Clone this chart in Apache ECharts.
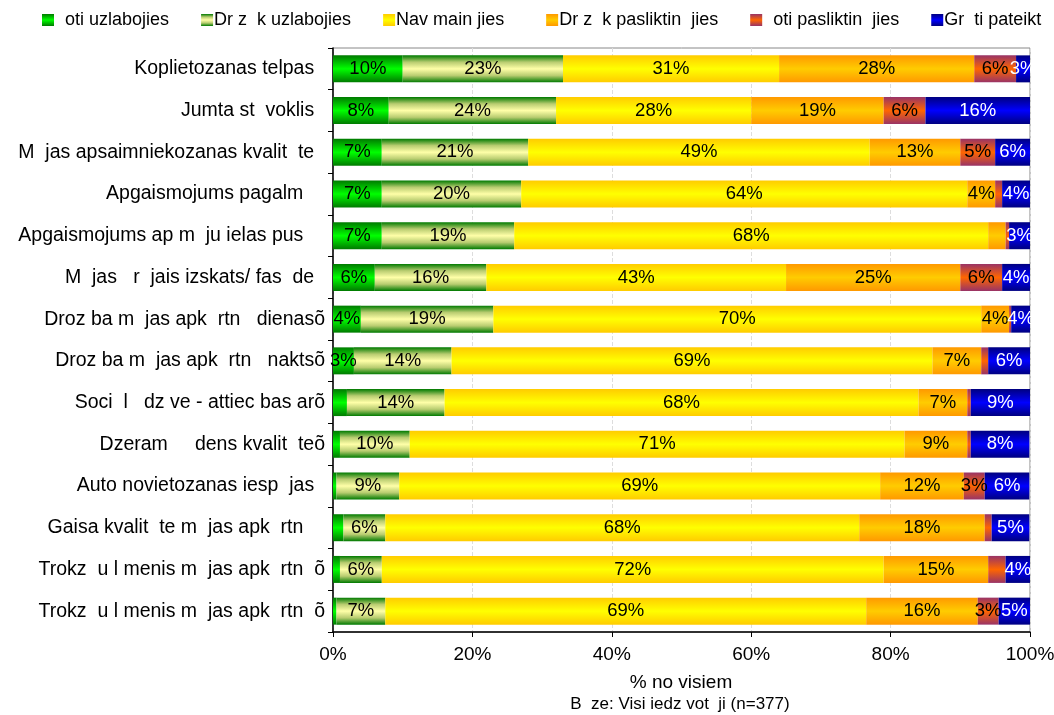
<!DOCTYPE html>
<html>
<head>
<meta charset="utf-8">
<script src="https://cdn.jsdelivr.net/npm/echarts@6/dist/echarts.min.js"></script>
<style>
  html, body { margin: 0; padding: 0; background: #fff; }
  #main { width: 1054px; height: 715px; }
</style>
</head>
<body>
<div id="main"></div>
<script>
// kategorijas (no augšas uz leju)
let categories = [
  'Koplietozanas telpas  ',
  'Jumta st  voklis  ',
  'M  jas apsaimniekozanas kvalit  te  ',
  'Apgaismojums pagalm    ',
  'Apgaismojums ap m  ju ielas pus    ',
  'M  jas   r  jais izskats/ fas  de  ',
  'Droz ba m  jas apk  rtn   dienasõ',
  'Droz ba m  jas apk  rtn   naktsõ',
  'Soci  l   dz ve - attiec bas arõ',
  'Dzeram     dens kvalit  teõ',
  'Auto novietozanas iesp  jas  ',
  'Gaisa kvalit  te m  jas apk  rtn    ',
  'Trokz  u l menis m  jas apk  rtn  õ',
  'Trokz  u l menis m  jas apk  rtn  õ'
];

let legendNames = [
  '  oti uzlabojies',
  'Dr z  k uzlabojies',
  'Nav main jies  ',
  'Dr z  k pasliktin  jies',
  '  oti pasliktin  jies',
  'Gr  ti pateikt'
];

// vērtības, %
let veryImproved     = [10, 8, 7, 7, 7, 6, 4, 3, 2, 1, 0.5, 1.5, 1, 0.5];
let slightlyImproved = [23, 24, 21, 20, 19, 16, 19, 14, 14, 10, 9, 6, 6, 7];
let unchanged        = [31, 28, 49, 64, 68, 43, 70, 69, 68, 71, 69, 68, 72, 69];
let slightlyWorse    = [28, 19, 13, 4, 2.5, 25, 4, 7, 7, 9, 12, 18, 15, 16];
let muchWorse        = [6, 6, 5, 1, 0.5, 6, 0.3, 1, 0.5, 0.5, 3, 1, 2.5, 3];
let hardToSay        = [3, 16, 6, 4, 3, 4, 4, 6, 9, 8.4, 6.4, 5.4, 4, 5];

let xTicks = [0, 20, 40, 60, 80, 100];

let FONT = 'Liberation Sans, Arial, sans-serif';

function grad(edge, mid) {
  return new echarts.graphic.LinearGradient(0, 0, 0, 1, [
    { offset: 0, color: edge },
    { offset: 0.5, color: mid },
    { offset: 1, color: edge }
  ]);
}

function makeSeries(name, data, color, labelColor) {
  return {
    name: name,
    type: 'bar',
    stack: 'total',
    barWidth: 27,
    data: data,
    itemStyle: { color: color },
    label: {
      show: true,
      position: 'inside',
      color: labelColor,
      fontSize: 18.5,
      fontFamily: FONT,
      formatter: function (p) {
        return p.value >= 3 ? Math.round(p.value) + '%' : '';
      }
    }
  };
}

let chartDom = document.getElementById('main');
let myChart = echarts.init(chartDom);
let option;

option = {
  animation: false,
  textStyle: { fontFamily: FONT },
  legend: {
    left: 42,
    top: 11,
    padding: 0,
    itemWidth: 12,
    itemHeight: 12,
    itemGap: 32,
    icon: 'rect',
    textStyle: { fontSize: 18, color: '#000', padding: [0, 0, 0, -4] },
    data: legendNames
  },
  grid: {
    left: 333,
    right: 24,
    top: 48,
    height: 584,
    show: true,
    borderColor: '#888',
    borderWidth: 1,
    containLabel: false,
    outerBoundsMode: 'none'
  },
  xAxis: {
    type: 'value',
    min: 0,
    max: 100,
    interval: 20,
    axisLine: { show: true, lineStyle: { color: '#000', width: 1.5 } },
    axisTick: { show: true, length: 5, lineStyle: { color: '#000' } },
    axisLabel: {
      fontSize: 19,
      color: '#000',
      margin: 13,
      formatter: function (v) { return xTicks.indexOf(v) >= 0 ? v + '%' : ''; }
    },
    splitLine: { show: true, lineStyle: { color: '#ddd', type: 'dashed' } }
  },
  yAxis: {
    type: 'category',
    inverse: true,
    data: categories,
    axisLine: { show: true, lineStyle: { color: '#000', width: 1.5 } },
    axisTick: { show: true, length: 5, lineStyle: { color: '#000' } },
    axisLabel: { fontSize: 19.5, color: '#000', margin: 8 }
  },
  graphic: [
    {
      type: 'text',
      x: 681,
      y: 683,
      style: { text: '% no visiem', fill: '#000', font: '19px ' + FONT, align: 'center', verticalAlign: 'middle' }
    },
    {
      type: 'text',
      x: 680,
      y: 704,
      style: { text: 'B  ze: Visi iedz vot  ji (n=377)', fill: '#000', font: '17px ' + FONT, align: 'center', verticalAlign: 'middle' }
    }
  ],
  series: [
    makeSeries(legendNames[0], veryImproved, grad('#007a00', '#00ff00'), '#000'),
    makeSeries(legendNames[1], slightlyImproved, new echarts.graphic.LinearGradient(0, 0, 0, 1, [
      { offset: 0, color: '#007a00' },
      { offset: 0.25, color: '#b8cc70' },
      { offset: 0.5, color: '#ffffa8' },
      { offset: 0.75, color: '#b8cc70' },
      { offset: 1, color: '#007a00' }
    ]), '#000'),
    makeSeries(legendNames[2], unchanged, grad('#ffcc00', '#ffff00'), '#000'),
    makeSeries(legendNames[3], slightlyWorse, grad('#ff9900', '#ffcc00'), '#000'),
    makeSeries(legendNames[4], muchWorse, grad('#993366', '#ff6600'), '#000'),
    makeSeries(legendNames[5], hardToSay, grad('#000080', '#0000ff'), '#fff')
  ]
};

option && myChart.setOption(option);
</script>
</body>
</html>
